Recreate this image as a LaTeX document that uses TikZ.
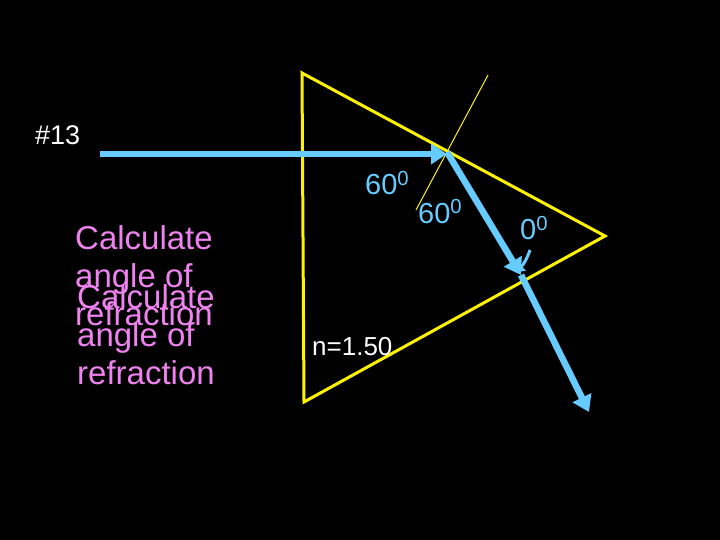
\documentclass[tikz,border=0pt]{standalone}
\usepackage{fontspec}
\setmainfont{Liberation Sans}
\begin{document}
\begin{tikzpicture}[x=1pt,y=-1pt,
  ray/.style={draw=rayc,line width=6.5pt,-{Triangle[length=16pt,width=20pt]}},
  lbl/.style={text=rayc,font=\fontsize{29}{29}\selectfont,anchor=base west,inner sep=0pt},
  pink/.style={text=pinkc,font=\fontsize{33}{38}\selectfont,anchor=north west,align=left,inner sep=0pt}]
\usetikzlibrary{arrows.meta}
\definecolor{rayc}{HTML}{66CCFF}
\definecolor{pinkc}{HTML}{EE82EE}
\fill[black] (0,0) rectangle (720,540);
\useasboundingbox (0,0) rectangle (720,540);
\coordinate (A) at (302,73);
\coordinate (B) at (605,236);
\coordinate (C) at (304,402);
\coordinate (P) at (447,152);
\coordinate (Q) at (521,275);
\coordinate (S) at (100,154);
\coordinate (E) at (589,412);
\coordinate (N1) at (488,75);
\coordinate (N2) at (416,210);
\draw[yellow,line width=3pt,line join=miter] (A) -- (B) -- (C) -- cycle;
\draw[yellow,line width=1pt] (N1) -- (N2);
\draw[ray] (S) -- (P |- S);
\draw[ray] (P) -- (Q);
\draw[ray] (Q) -- (E);
\node[text=white,font=\fontsize{27}{27}\selectfont,anchor=base west,inner sep=0pt] (t13) at (35,145) {\#13};
\node[lbl] (a1) at (365,195) {60$^{\mathrm{0}}$};
\node[lbl] (a2) at (418,223) {60$^{\mathrm{0}}$};
\node[lbl] (a3) at (520,240) {0$^{\mathrm{0}}$};
\coordinate (ah) at (515,272);
\draw[rayc,line width=3pt,-{Triangle[length=9pt,width=12pt]}] (530,250) to[bend left=15] (ah);
\node[text=white,font=\fontsize{26}{26}\selectfont,anchor=base west,inner sep=0pt] (n) at (312,355) {n=1.50};
\node[pink] (c1) at (75,225) {Calculate\\angle of\\refraction};
\node[pink] (c2) at (77,284) {Calculate\\angle of\\refraction};
\end{tikzpicture}
\end{document}
